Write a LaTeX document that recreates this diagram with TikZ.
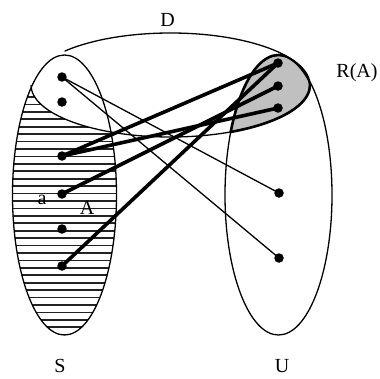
\documentclass[tikz,border=0pt]{standalone}
\usepackage{fontspec}
\setmainfont{Liberation Serif}
\definecolor{RegionGray}{RGB}{192,192,192}
\definecolor{HatchInk}{RGB}{35,35,35}

\begin{document}
\begin{tikzpicture}[x=1pt,y=-1pt,
    Sshape/.style={x radius=52,y radius=140},
    Ushape/.style={x radius=53.5,y radius=140},
    Dshape/.style={x radius=139.5,y radius=52},
    setline/.style={line width=1.3pt},
    dot/.style={circle,fill=black,inner sep=0pt,minimum size=9.5pt},
    thinlink/.style={line width=1.3pt},
    thicklink/.style={line width=3.6pt},
    lbl/.style={font=\fontsize{20}{23}\selectfont,inner sep=0pt}]
  \useasboundingbox (0,0) rectangle (380,378);
  \coordinate (Sc) at (64.5,195);
  \coordinate (Uc) at (278.5,195);
  \coordinate (Dc) at (170.5,85);

  % hatching: S outside D
  \begin{scope}
    \clip (Sc) ellipse [Sshape];
    \foreach \yy in {0,...,38}
      \draw[HatchInk,line width=1.7pt] (0,52.4+7.43*\yy) -- (130,52.4+7.43*\yy);
    \fill[white] (Dc) ellipse [Dshape];
  \end{scope}

  % R(A): D inside U
  \begin{scope}
    \clip (Dc) ellipse [Dshape];
    \fill[RegionGray] (Uc) ellipse [Ushape];
    \draw[line width=2.6pt] (Uc) ellipse [Ushape];
  \end{scope}
  \begin{scope}
    \clip (Uc) ellipse [Ushape];
    \draw[line width=2.6pt] (Dc) ellipse [Dshape];
  \end{scope}

  \draw[setline] (Sc) ellipse [Sshape];
  \draw[setline] (Uc) ellipse [Ushape];
  % D: lower arc, then upper arc outside S only
  \begin{scope}
    \clip (0,85) rectangle (380,200);
    \draw[setline] (Dc) ellipse [Dshape];
  \end{scope}
  \begin{scope}[even odd rule]
    \clip (64.5,0) rectangle (380,85);
    \clip (0,0) rectangle (380,378) (Sc) ellipse [Sshape];
    \draw[setline] (Dc) ellipse [Dshape];
  \end{scope}

  \node[dot] (l1) at (62,77) {};
  \node[dot] (l2) at (62,102) {};
  \node[dot] (s1) at (62,156) {};
  \node[dot] (s2) at (62,194) {};
  \node[dot] (s3) at (62,229) {};
  \node[dot] (s4) at (62,266) {};
  \node[dot] (r1) at (278,63) {};
  \node[dot] (r2) at (278,86) {};
  \node[dot] (r3) at (278,108) {};
  \node[dot] (u1) at (279,193) {};
  \node[dot] (u2) at (279,258) {};

  \draw[thinlink] (l1.center) -- (u1.center);
  \draw[thinlink] (l1.center) -- (u2.center);
  \draw[thicklink] (s1.center) -- (r1.center);
  \draw[thicklink] (s1.center) -- (r3.center);
  \draw[thicklink] (s2.center) -- (r2.center);
  \draw[thicklink] (s4.center) -- (r1.center);

  \node[lbl] (labD) at (167.5,20) {D};
  \node[lbl] (labR) at (357,73) {R(A)};
  \node[lbl] (labS) at (60,366) {S};
  \node[lbl] (labU) at (282,366) {U};
  \node[lbl] (laba) at (42,200) {a};
  \node[lbl] (labA) at (87,208) {A};
\end{tikzpicture}
\end{document}
